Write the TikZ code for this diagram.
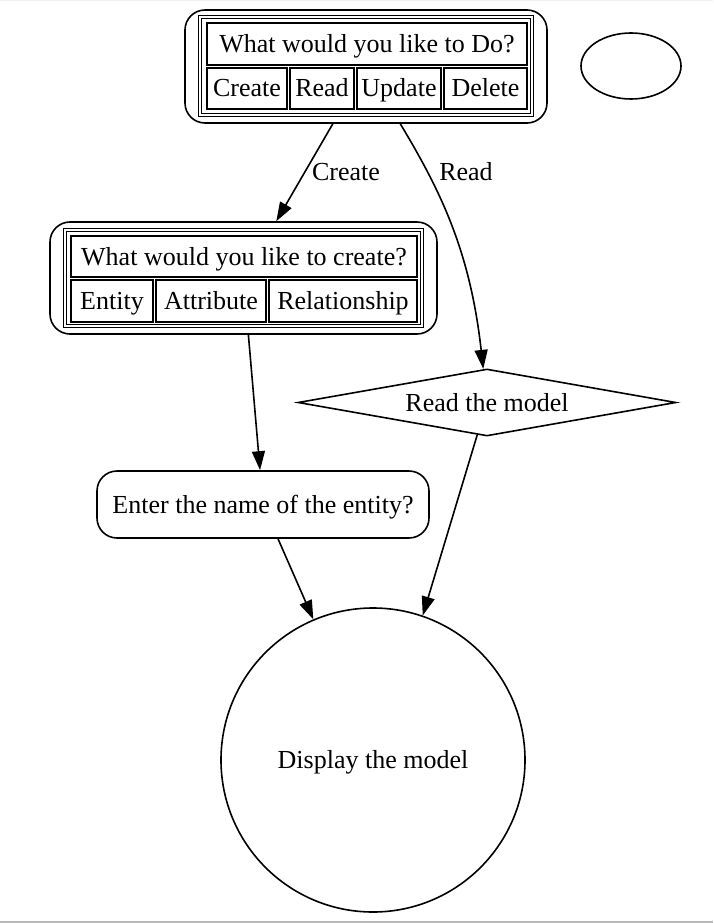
\documentclass[tikz,border=0pt]{standalone}
\usepackage{fontspec}
\setmainfont{Liberation Serif}
\usetikzlibrary{arrows.meta}
\usetikzlibrary{positioning}
\usetikzlibrary{shapes.geometric}

\begin{document}
\begin{tikzpicture}[x=1pt,y=-1pt]
  \tikzset{
    txt/.style={font=\fontsize{26}{30}\selectfont,text height=20pt,text depth=3pt},
    box/.style 2 args={draw,line width=1.6pt,rounded corners=20pt,inner sep=0pt,
      minimum width=#1,minimum height=#2},
    frame/.style 2 args={draw,double,double distance=1.8pt,line width=1.1pt,inner sep=0pt,
      minimum width=#1,minimum height=#2},
    cell/.style 2 args={txt,draw,line width=1.3pt,inner sep=0pt,
      minimum width=#1,minimum height=#2},
    edge/.style={line width=1.6pt,-{Triangle[length=19pt,width=13pt]}}
  }
    \useasboundingbox (0,0) rectangle (713,923);
    \fill[gray!12] (0,0) rectangle (713,1.2);
    \fill[gray!55] (0,920.5) rectangle (713,923);

    %TABLE DO
    \node[box={362pt}{113pt}] (q1) at (366,66.5) {};
    \node[frame={332pt}{98pt}] (q1t) at (366,66) {};
    \node[cell={320pt}{42pt}] (q1h) at (367,44) {What would you like to Do?};
    \node[cell={80pt}{41pt}] (q1c) at (247,88.5) {Create};
    \node[cell={64pt}{41pt}] (q1r) at (322,88.5) {Read};
    \node[cell={84pt}{41pt}] (q1u) at (399,88.5) {Update};
    \node[cell={83pt}{41pt}] (q1d) at (485.5,88.5) {Delete};

    \node[draw,ellipse,line width=1.6pt,minimum width=100pt,minimum height=66pt] (blank) at (631,66) {};

    %TABLE CREATE
    \node[box={387pt}{112pt}] (q2) at (243.5,278) {};
    \node[frame={357pt}{96pt}] (q2t) at (243.5,278) {};
    \node[cell={346pt}{41pt}] (q2h) at (244,256.5) {What would you like to create?};
    \node[cell={82pt}{42pt}] (q2e) at (112,301) {Entity};
    \node[cell={110pt}{42pt}] (q2a) at (211,301) {Attribute};
    \node[cell={148pt}{42pt}] (q2r) at (343,301) {Relationship};

    \node[txt,draw,diamond,aspect=5.6,inner sep=0pt,line width=1.6pt,
      minimum width=378pt,minimum height=67pt] (read) at (487,402.5) {Read the model};
    \node[txt,box={332pt}{67pt}] (enter) at (263,504.5) {Enter the name of the entity?};
    \node[txt,draw,circle,line width=1.6pt,minimum size=304pt] (disp) at (373,760) {Display the model};

    %EDGES
    \foreach \a/\b in {q1/q2,q2/enter,enter/disp.113,read/disp.71} {
      \draw[edge] (\a) -- (\b) ;
    }
    \draw[edge] (q1) .. controls (440,190) and (470,250) .. (read);
    \node[txt] (lcreate) at (346,172) {Create};
    \node[txt] (lread) at (466,172) {Read};
  \end{tikzpicture}
\end{document}
